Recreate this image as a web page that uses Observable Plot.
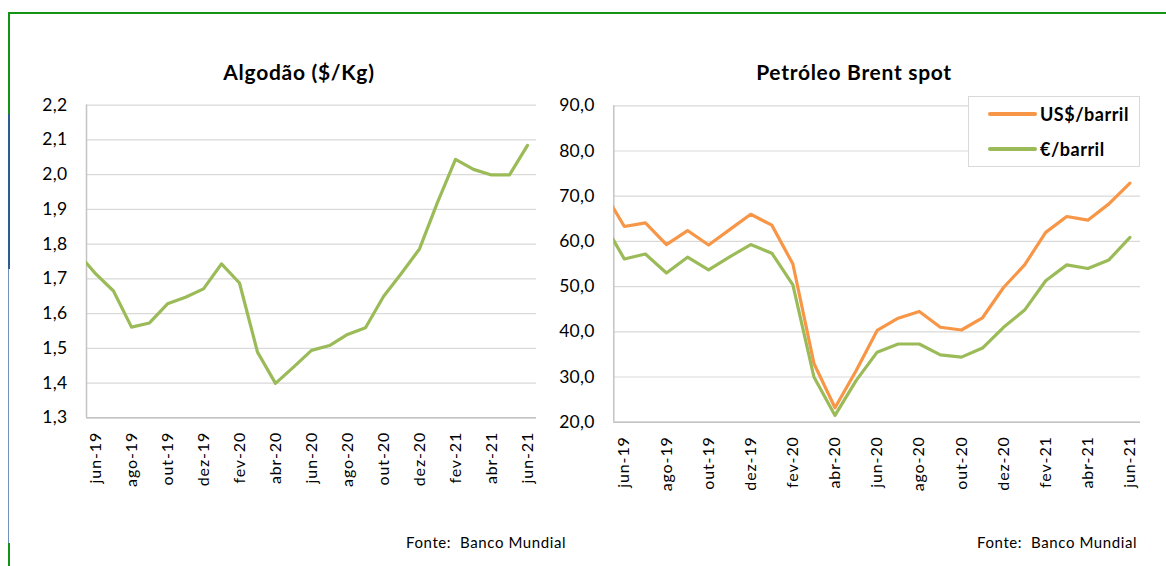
<!DOCTYPE html>
<html>
<head>
<meta charset="utf-8">
<script src="https://cdn.jsdelivr.net/npm/d3@7"></script>
<script src="https://cdn.jsdelivr.net/npm/@observablehq/plot@0.6"></script>
<style>
  html, body { margin:0; padding:0; background:#fff; }
  #page { position:relative; width:1166px; height:566px; overflow:hidden; font-family: Lato, "Noto Sans", sans-serif; color:#000; }
  .abs { position:absolute; }
  .title { font-weight:bold; font-size:21px; letter-spacing:0.7px; line-height:21px; white-space:nowrap; transform:translateX(-50%); }
  .foot { font-size:15px; letter-spacing:0.6px; line-height:15px; white-space:pre; }
  .legend { border:1.5px solid #d9d9d9; background:#fff; box-sizing:border-box; }
  .leg-row { position:absolute; left:19px; height:20px; display:flex; align-items:center; }
  .leg-sw { width:49px; height:4px; border-radius:2px; margin-right:3px; }
  .leg-tx { font-weight:bold; font-size:18px; letter-spacing:0.5px; line-height:20px; white-space:nowrap; }
  g[aria-label="x-axis tick label"] text { letter-spacing:0.9px; }
  g[aria-label="y-axis tick label"] text { letter-spacing:0.3px; }
</style>
</head>
<body>
<div id="page"></div>
<script>
// ---- data ----
const months = ["mai-19","jun-19","jul-19","ago-19","set-19","out-19","nov-19","dez-19","jan-20","fev-20","mar-20","abr-20","mai-20","jun-20","jul-20","ago-20","set-20","out-20","nov-20","dez-20","jan-21","fev-21","mar-21","abr-21","mai-21","jun-21"];
const algodao = [1.775, 1.715, 1.665, 1.561, 1.573, 1.628, 1.647, 1.671, 1.743, 1.688, 1.489, 1.399, 1.446, 1.494, 1.508, 1.540, 1.559, 1.649, 1.716, 1.786, 1.920, 2.044, 2.015, 1.999, 1.999, 2.084];
const brentUSD = [71.2, 63.3, 64.1, 59.3, 62.4, 59.2, 62.6, 66.0, 63.6, 55.0, 33.0, 23.2, 31.4, 40.3, 43.0, 44.5, 41.0, 40.4, 43.1, 49.8, 54.8, 62.0, 65.5, 64.7, 68.3, 72.9];
const brentEUR = [64.2, 56.1, 57.2, 53.0, 56.5, 53.7, 56.6, 59.3, 57.4, 50.4, 30.0, 21.5, 29.2, 35.5, 37.3, 37.3, 34.9, 34.4, 36.4, 41.0, 44.8, 51.3, 54.8, 54.0, 55.9, 60.9];
const xTickLabels = ["jun-19","ago-19","out-19","dez-19","fev-20","abr-20","jun-20","ago-20","out-20","dez-20","fev-21","abr-21","jun-21"];
const yTicksAlg = [1.3, 1.4, 1.5, 1.6, 1.7, 1.8, 1.9, 2.0, 2.1, 2.2];
const yTicksBrent = [20, 30, 40, 50, 60, 70, 80, 90];
const seriesNames = ["US$/barril", "€/barril"];
const colors = {"US$/barril": "#f79646", "€/barril": "#9bbb59", "Algodão": "#9bbb59"};
const titles = ["Algodão ($/Kg)", "Petróleo Brent spot"];
const source = "Fonte:  Banco Mundial";

// ---- helpers ----
const idx = (i) => i - 1; // mai-19 sits half a month left of the plot edge
const xTicks = xTickLabels.map(l => idx(months.indexOf(l)));
const tickLabel = (v) => months[v + 1];
const commaFmt = (v) => d3.format(".1f")(v).replace(".", ",");

const page = document.getElementById("page");
function add(html, cls, style) {
  const d = document.createElement("div");
  d.className = "abs " + (cls || "");
  Object.assign(d.style, style);
  d.textContent = html;
  page.appendChild(d);
  return d;
}

// frame lines
const frame = [
  {left:"8px", top:"12px", width:"1158px", height:"2px", background:"#149414"},
  {left:"8px", top:"12px", width:"2px", height:"102px", background:"#149414"},
  {left:"8px", top:"114px", width:"2px", height:"155px", background:"#2d5c8e"},
  {left:"8px", top:"269px", width:"1px", height:"274px", background:"#6f93bd"},
  {left:"8px", top:"543px", width:"2px", height:"23px", background:"#149414"}
];
frame.forEach(s => add("", "", s));

function axisCommon(yDomain, extra) {
  return Object.assign({
    style: {fontFamily: "Lato, 'Noto Sans', sans-serif", color: "#000", background: "transparent", overflow: "visible"},
    x: {type: "linear", domain: [-0.5, 24.5]},
    y: {domain: yDomain}
  }, extra);
}

function baseMarks(yTicks, yDomain) {
  return [
    Plot.gridY(yTicks, {stroke: "#d9d9d9", strokeOpacity: 1, strokeWidth: 1.2}),
    Plot.ruleX([-0.5], {stroke: "#c4c4c4", strokeWidth: 1.5}),
    Plot.ruleY([yDomain[0]], {stroke: "#c4c4c4", strokeWidth: 1.5}),
    Plot.axisY(yTicks, {tickSize: 0, tickPadding: 19, tickFormat: commaFmt, fontSize: 17.5, label: null}),
    Plot.axisX(xTicks, {tickSize: 0, tickPadding: 14, tickRotate: -90, tickFormat: tickLabel, fontSize: 16, label: null})
  ];
}

// ---- left chart: Algodão ----
const algData = months.map((m, i) => ({i: idx(i), v: algodao[i]}));
const left = Plot.plot(axisCommon([1.3, 2.2], {
  width: 560, height: 490,
  marginLeft: 86, marginRight: 24, marginTop: 104.6, marginBottom: 72.7,
  marks: [
    ...baseMarks(yTicksAlg, [1.3, 2.2]),
    Plot.lineY(algData, {x: "i", y: "v", stroke: colors["Algodão"], strokeWidth: 3.2, strokeLinejoin: "round", clip: true})
  ]
}));
left.style.position = "absolute"; left.style.left = "0px"; left.style.top = "0px";
page.appendChild(left);

// ---- right chart: Brent ----
const brentData = [];
months.forEach((m, i) => {
  brentData.push({i: idx(i), v: brentUSD[i], s: seriesNames[0]});
});
months.forEach((m, i) => {
  brentData.push({i: idx(i), v: brentEUR[i], s: seriesNames[1]});
});
const right = Plot.plot(axisCommon([20, 90], {
  width: 626, height: 490,
  marginLeft: 73.3, marginRight: 26, marginTop: 105.3, marginBottom: 68.3,
  color: {domain: seriesNames, range: seriesNames.map(s => colors[s])},
  marks: [
    ...baseMarks(yTicksBrent, [20, 90]),
    Plot.lineY(brentData, {x: "i", y: "v", z: "s", stroke: "s", strokeWidth: 3.2, strokeLinejoin: "round", clip: true})
  ]
}));
right.style.position = "absolute"; right.style.left = "540px"; right.style.top = "0px";
page.appendChild(right);

// titles
add(titles[0], "title", {left: "299px", top: "61px"});
add(titles[1], "title", {left: "854px", top: "61px"});

// sources
add(source, "foot", {left: "406px", top: "535px"});
add(source, "foot", {left: "977px", top: "535px"});

// legend
const leg = add("", "legend", {left: "968px", top: "96px", width: "172px", height: "71px"});
seriesNames.forEach((s, k) => {
  const row = document.createElement("div");
  row.className = "leg-row";
  row.style.top = (k === 0 ? 7 : 42) + "px";
  const sw = document.createElement("div");
  sw.className = "leg-sw"; sw.style.background = colors[s];
  const tx = document.createElement("div");
  tx.className = "leg-tx"; tx.textContent = s;
  row.appendChild(sw); row.appendChild(tx);
  leg.appendChild(row);
});
</script>
</body>
</html>
